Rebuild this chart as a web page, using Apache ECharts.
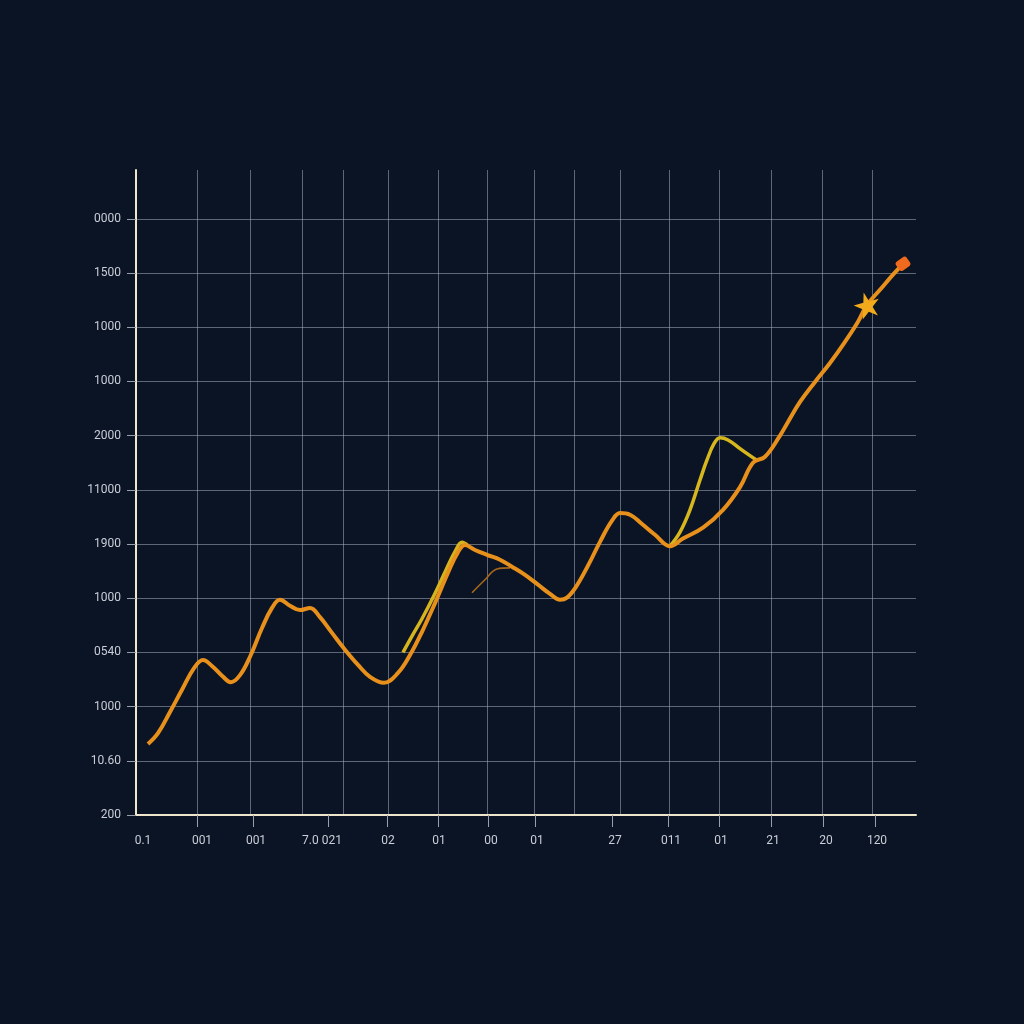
<!DOCTYPE html>
<html>
<head>
<meta charset="utf-8">
<script src="https://cdn.jsdelivr.net/npm/echarts@6/dist/echarts.min.js"></script>
<style>
html,body{margin:0;padding:0;background:#0b1424;}
#c{width:1024px;height:1024px;}
</style>
</head>
<body>
<div id="c"></div>
<script>
// y tick labels (index = value)
const yLabels = ["200","10.60","1000","0540","1000","1900","11000","2000","1000","1000","1500","0000"];
const yTickValues = [0,1,2,3,4,5,6,7,8,9,10,11];
// x axis: tick marks, labels, grid lines
const xTickValues = [61,117,192,251,302,352,399,476,532,583,635,687,739];
const xLabelValues = [7,66,120,186,252,303,355,401,479,535,585,637,690,741];
const xLabelTexts = ["0.1","001","001","7.0 021","02","01","00","01","27","011","01","21","20","120"];
const xGridValues = [61,114,166,207,252,302,351,398,438,484,533,583,635,686,736];

// main orange line
const mainX = [12,22,34,46,58,67,76,86,95,104,114,126,136,144,154,164,174,184,196,209,222,234,248,262,274,286,299,312,322,329,339,351,364,376,389,402,414,424,431,440,452,464,476,484,494,506,519,534,547,567,587,604,617,629,644,651,664,679,694,709,722,731,744,757,767];
const mainY = [1.31,1.51,1.90,2.31,2.71,2.86,2.75,2.57,2.45,2.58,2.92,3.45,3.82,3.97,3.86,3.78,3.82,3.65,3.36,3.05,2.77,2.55,2.44,2.62,2.95,3.38,3.91,4.47,4.85,4.98,4.89,4.80,4.71,4.58,4.43,4.25,4.08,3.97,4.01,4.21,4.60,5.04,5.43,5.57,5.54,5.37,5.17,4.96,5.10,5.30,5.63,6.05,6.50,6.61,7.00,7.22,7.62,7.99,8.34,8.73,9.10,9.41,9.69,9.97,10.17];
// yellow branch A (middle climb)
const yellowAX = [267,276,286,298,310,319,326,332];
const yellowAY = [3.00,3.30,3.62,4.05,4.52,4.86,5.03,4.97];
// yellow branch B (right hump)
const yellowBX = [534,544,554,564,571,578,584,592,604,614,622];
const yellowBY = [4.96,5.22,5.63,6.18,6.55,6.85,6.96,6.92,6.76,6.63,6.53];
// faint thin branch
const faintX = [336,349,361,374];
const faintY = [4.10,4.34,4.54,4.56];

const zip = (xs, ys) => xs.map((x, i) => [x, ys[i]]);
const starIdx = mainX.indexOf(731);
const endIdx = mainX.length - 1;
const mainData = zip(mainX, mainY).map((p, i) => {
  if (i === starIdx) return {value: p, symbol: 'path://M50,0 L61,35 L98,35 L68,57 L79,91 L50,70 L21,91 L32,57 L2,35 L39,35 Z', symbolSize: 26, symbolRotate: 15, itemStyle: {color: '#f2aa1c'}};
  if (i === endIdx) return {value: p, symbol: 'roundRect', symbolSize: [13, 11], symbolRotate: 35, itemStyle: {color: '#f06a1e'}};
  return {value: p, symbol: 'none'};
});

const axisTextColor = '#c9ced8';
const gridColor = 'rgba(165,172,185,0.55)';
const chart = echarts.init(document.getElementById('c'));
chart.setOption({
  backgroundColor: '#0b1424',
  animation: false,
  grid: {left: 136, right: 108, top: 170, bottom: 209},
  xAxis: [{
    type: 'value', min: 0, max: 780, position: 'bottom',
    axisLine: {show: true, lineStyle: {color: '#efe6cc', width: 2}},
    axisTick: {show: true, length: 12, customValues: xTickValues, lineStyle: {color: '#9aa0ab', width: 1}},
    axisLabel: {show: true, customValues: xLabelValues, margin: 20, color: axisTextColor, fontSize: 12, fontFamily: 'Roboto',
      formatter: v => { const i = xLabelValues.indexOf(v); return i >= 0 ? xLabelTexts[i] : ''; }},
    splitLine: {show: false}
  }, {
    type: 'value', min: 0, max: 780, position: 'top',
    axisLine: {show: false},
    axisTick: {show: false, customValues: xGridValues},
    axisLabel: {show: false},
    splitLine: {show: true, lineStyle: {color: gridColor, width: 1}}
  }],
  yAxis: {
    type: 'value', min: 0, max: 11.9, interval: 1,
    axisLine: {show: true, lineStyle: {color: '#efe6cc', width: 2}},
    axisTick: {show: true, length: 9, customValues: yTickValues, lineStyle: {color: '#9aa0ab', width: 1}},
    axisLabel: {show: true, customValues: yTickValues, margin: 15, color: axisTextColor, fontSize: 12, fontFamily: 'Roboto',
      formatter: v => { const i = Math.round(v); return Math.abs(v - i) < 1e-6 && yLabels[i] !== undefined ? yLabels[i] : ''; }},
    splitLine: {show: true, lineStyle: {color: gridColor, width: 1}}
  },
  series: [
    {type: 'line', name: 'faint', data: zip(faintX, faintY), smooth: 0.4, symbol: 'none',
     lineStyle: {color: '#a8661a', width: 1.6}, z: 2},
    {type: 'line', name: 'yellowA', data: zip(yellowAX, yellowAY), smooth: 0.4, symbol: 'none',
     lineStyle: {color: '#d6b41e', width: 3.5}, z: 3},
    {type: 'line', name: 'yellowB', data: zip(yellowBX, yellowBY), smooth: 0.4, symbol: 'none',
     lineStyle: {color: '#d6b81e', width: 3.5}, z: 3},
    {type: 'line', name: 'main', data: mainData, smooth: 0.4, showSymbol: true, showAllSymbol: true,
     lineStyle: {color: '#e8901c', width: 4}, itemStyle: {color: '#e8901c'}, z: 4}
  ]
});
</script>
</body>
</html>
